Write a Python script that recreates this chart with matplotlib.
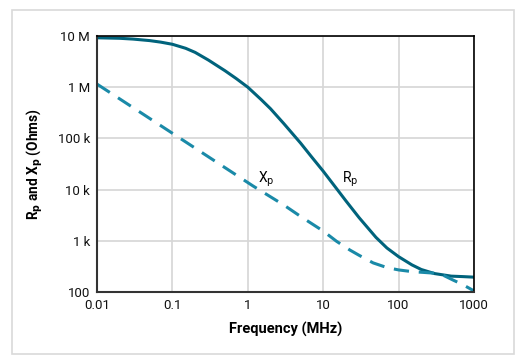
"""Rp and Xp versus frequency, log-log."""

import matplotlib.pyplot as plt
from matplotlib.patches import Rectangle

# values
freq_rp = [0.01, 0.02, 0.03, 0.05, 0.07, 0.1, 0.15, 0.2, 0.3, 0.5, 0.7, 1,
           1.5, 2, 3, 5, 7, 10, 15, 20, 30, 50, 70, 100, 150, 200, 300, 500,
           700, 1000]
rp = [9.23e6, 9.02e6, 8.71e6, 8.13e6, 7.59e6, 6.89e6, 5.75e6, 4.79e6,
      3.39e6, 2.09e6, 1.48e6, 1.0e6, 5.75e5, 3.80e5, 1.95e5, 8.13e4,
      4.37e4, 2.29e4, 1.05e4, 6.03e3, 2.82e3, 1.17e3, 7.24e2, 4.90e2,
      3.39e2, 2.75e2, 2.29e2, 2.04e2, 2.0e2, 1.95e2]

freq_xp = [0.01, 0.1, 1.18, 3, 5, 10, 15, 22.6, 30, 46, 70, 100, 150, 200,
           288, 400, 532, 700, 1000]
xp = [1.15e6, 1.26e5, 1.17e4, 5.0e3, 3.0e3, 1.55e3, 9.8e2, 6.6e2, 5.2e2,
      3.7e2, 3.0e2, 2.7e2, 2.5e2, 2.43e2, 2.34e2, 2.09e2, 1.7e2, 1.41e2,
      1.05e2]

y_ticks = [1e2, 1e3, 1e4, 1e5, 1e6, 1e7]
y_labels = ["100", "1 k", "10 k", "100 k", "1 M", "10 M"]
x_ticks = [0.01, 0.1, 1, 10, 100, 1000]
x_labels = ["0.01", "0.1", "1", "10", "100", "1000"]

plt.rcParams["font.family"] = ["Roboto", "DejaVu Sans"]

fig = plt.figure(figsize=(5.22, 3.6), dpi=100)
ax = fig.add_axes([97 / 522, 1 - 292 / 360, (474 - 97) / 522, (292 - 36) / 360])

# light frame around the whole chart
fig.patches.append(Rectangle((12 / 522, 1 - 354 / 360), 502 / 522, 344 / 360,
                             transform=fig.transFigure, fill=False,
                             edgecolor="#d9d9d9", linewidth=1.2))

ax.plot(freq_rp, rp, color="#00637c", linewidth=2.2)
ax.plot(freq_xp, xp, color="#1a8aa8", linewidth=2.2, dashes=(5, 3.2))

ax.set_xscale("log")
ax.set_yscale("log")
ax.set_xlim(0.01, 1000)
ax.set_ylim(100, 1e7)
ax.set_xticks(x_ticks)
ax.set_xticklabels(x_labels)
ax.set_yticks(y_ticks)
ax.set_yticklabels(y_labels)
ax.minorticks_off()
ax.tick_params(length=0, labelsize=9.5, colors="#111111", pad=5)
ax.grid(True, color="#d6d6d6", linewidth=1.2)
ax.set_axisbelow(True)

for side in ["top", "right"]:
    ax.spines[side].set_color("#000000")
    ax.spines[side].set_linewidth(1.2)
for side in ["left", "bottom"]:
    ax.spines[side].set_color("#333333")
    ax.spines[side].set_linewidth(1.5)

ax.set_xlabel("Frequency (MHz)", fontsize=10.5, fontweight="bold", labelpad=7)
ax.set_ylabel(r"R$_\mathbf{p}$ and X$_\mathbf{p}$ (Ohms)", fontsize=9.8,
              fontweight="bold", labelpad=9)

ax.text(1.36, 1.35e4, r"X$_\mathrm{p}$", fontsize=10, ha="left", va="baseline")
ax.text(17.6, 1.35e4, r"R$_\mathrm{p}$", fontsize=10, ha="left", va="baseline")

fig.savefig("out.png", dpi=100)
